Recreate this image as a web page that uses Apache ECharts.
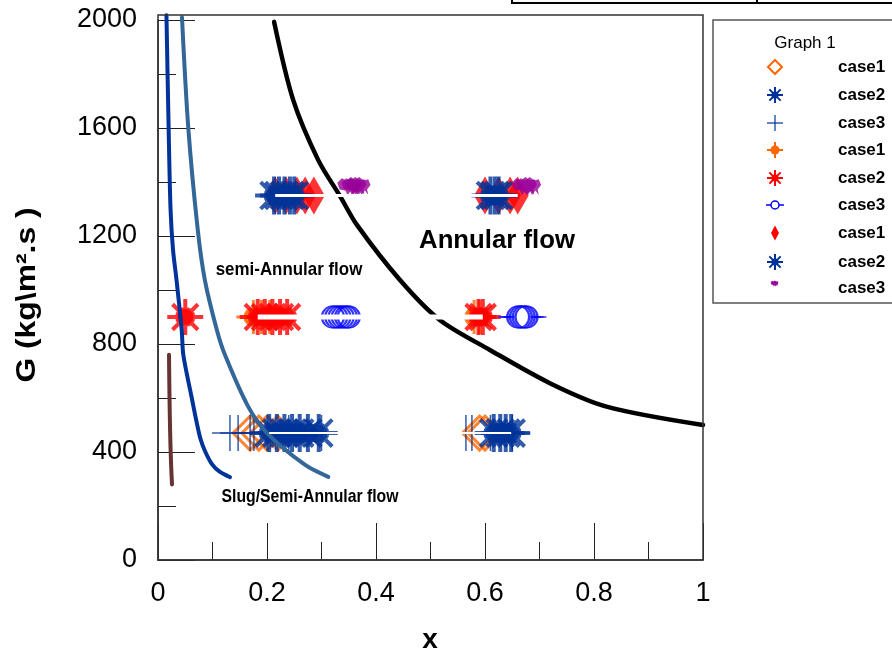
<!DOCTYPE html>
<html>
<head>
<meta charset="utf-8">
<script src="https://cdn.jsdelivr.net/npm/echarts/dist/echarts.min.js"></script>
<style>
  html, body { margin: 0; padding: 0; background: #fff; }
  #chart { width: 892px; height: 657px; }
</style>
</head>
<body>
<div id="chart"></div>
<script>
// Flow pattern map: vapour quality x against mass flux G.

// Mass flux levels of the three test groups (kg/m2.s)
const gLow = 470;
const gMid = 900;
const gHigh = 1350;
const gHighCase3 = 1385;

// Group at G = 470: case1 / case2 / case3 qualities
const lowCase1X = [0.169, 0.185, 0.2, 0.22, 0.59, 0.6];
const lowCase2X = [0.204, 0.218, 0.232, 0.246, 0.26, 0.275, 0.295, 0.616, 0.628, 0.638, 0.648];
const lowCase3X = [0.132, 0.147, 0.169, 0.176, 0.2, 0.24, 0.3, 0.565, 0.576, 0.61, 0.65];

// Group at G = 900
const midCase1X = [0.175, 0.19, 0.205, 0.58, 0.59];
const midCase2X = [0.05, 0.183, 0.196, 0.21, 0.224, 0.237, 0.588, 0.596];
const midCase3X = [0.321, 0.327, 0.333, 0.339, 0.345, 0.35, 0.661, 0.666, 0.671, 0.676];

// Group at G = 1350
const highCase1X = [0.215, 0.235, 0.255, 0.27, 0.286, 0.6, 0.625, 0.646, 0.66];
const highCase2X = [0.213, 0.222, 0.232, 0.242, 0.25, 0.61, 0.618, 0.625];
const highCase3X = [0.352, 0.36, 0.367, 0.672, 0.68];

// Transition boundaries [x, G]
const slugBoundary = [[0.0155, 2018], [0.0195, 1600], [0.023, 1300], [0.0275, 1150], [0.034, 1037],
  [0.0435, 852], [0.0465, 759], [0.062, 600], [0.07, 519], [0.078, 448], [0.087, 400], [0.099, 355],
  [0.113, 327], [0.132, 307]];
const semiAnnularBoundary = [[0.044, 2010], [0.0556, 1600], [0.073, 1222], [0.086, 1037], [0.108, 852],
  [0.123, 759], [0.165, 570], [0.2, 470], [0.27, 352], [0.3125, 308]];
const annularBoundary = [[0.213, 1993], [0.248, 1704], [0.294, 1481], [0.334, 1348], [0.365, 1241],
  [0.444, 1037], [0.517, 889], [0.609, 778], [0.719, 655], [0.823, 568], [1.0, 500]];
const bubbleBoundary = [[0.0202, 760], [0.0208, 650], [0.0216, 540], [0.0228, 430], [0.0243, 340], [0.0257, 280]];

// Axis ticks
const xTickLabels = [0, 0.2, 0.4, 0.6, 0.8, 1];
const yTickLabels = [0, 400, 800, 1200, 1600, 2000];

// Legend entries
const legendNames = ['case1', 'case2', 'case3', 'case1', 'case2', 'case3', 'case1', 'case2', 'case3'];

// Marker shapes (SVG path data)
const SUN = 'M20,0L20,40M0,20L40,20M5.86,5.86L34.14,34.14M34.14,5.86L5.86,34.14M29,20A9,9,0,1,1,11,20A9,9,0,1,1,29,20Z';
const PLUS = 'M20,0L20,40M0,20L40,20';
const DOT_CROSS = 'M20,0L20,40M0,20L40,20M30,20A10,10,0,1,1,10,20A10,10,0,1,1,30,20Z';
const RING_ARMS = 'M0,11L9,11M31,11L40,11M31,11A11,11,0,1,1,9,11A11,11,0,1,1,31,11Z';
const DIAMOND = 'M10,0L20,10L10,20L0,10Z';
const BUG_PTS = [[2,6],[6,2],[10,4],[14,1],[18,4],[22,3],[24,8],[21,12],[22,17],[19,13],[16,17],[14,13],[11,17],[9,13],[4,12]];
const BUG = 'M' + BUG_PTS.map(p => p.join(',')).join('L') + 'Z';

const ORANGE = '#ff6600', NAVY = '#003399', RED = '#ff0000', BLUE = '#0000ff', PURPLE = '#990099';

const styles = [
  { symbol: 'path://' + DIAMOND, size: 34, item: { color: 'rgba(0,0,0,0)', borderColor: ORANGE, borderWidth: 3 } },
  { symbol: 'path://' + SUN, size: 38, item: { color: NAVY, borderColor: NAVY, borderWidth: 4 } },
  { symbol: 'path://' + PLUS, size: 36, item: { color: 'rgba(0,0,0,0)', borderColor: NAVY, borderWidth: 1.5 } },
  { symbol: 'path://' + DOT_CROSS, size: 34, item: { color: ORANGE, borderColor: ORANGE, borderWidth: 3 } },
  { symbol: 'path://' + SUN, size: 36, item: { color: RED, borderColor: RED, borderWidth: 4 } },
  { symbol: 'path://' + RING_ARMS, size: [40, 22], item: { color: 'rgba(0,0,0,0)', borderColor: BLUE, borderWidth: 1.8 } },
  { symbol: 'path://' + DIAMOND, size: [22, 38], item: { color: RED, borderColor: RED, borderWidth: 0 } },
  { symbol: 'path://' + SUN, size: 38, item: { color: NAVY, borderColor: NAVY, borderWidth: 4 } },
  { symbol: 'path://' + BUG, size: [25, 18], item: { color: PURPLE, borderColor: PURPLE, borderWidth: 0 } }
];

const groups = [
  [lowCase1X, gLow], [lowCase2X, gLow], [lowCase3X, gLow],
  [midCase1X, gMid], [midCase2X, gMid], [midCase3X, gMid],
  [highCase1X, gHigh], [highCase2X, gHigh], [highCase3X, gHighCase3]
];

const series = [];
groups.forEach(([xs, g], i) => {
  series.push({
    type: 'scatter',
    name: legendNames[i] + '#' + i,
    data: xs.map(x => [x, g]),
    symbol: styles[i].symbol,
    symbolSize: styles[i].size,
    itemStyle: styles[i].item,
    z: 2,
    silent: true,
    animation: false
  });
});

function boundary(data, color, width) {
  return {
    type: 'line', data, showSymbol: false, symbol: 'none', smooth: 0.3, clip: false,
    lineStyle: { color, width, cap: 'round', join: 'round' }, z: 3, silent: true, animation: false
  };
}
series.push(boundary(slugBoundary, '#003399', 4));
series.push(boundary(semiAnnularBoundary, '#336699', 4));
series.push(boundary(annularBoundary, '#000000', 4.5));
series.push(boundary(bubbleBoundary, '#663333', 4));

// White connecting traces through each group's main clusters
function trace(xs, g, width) {
  const sorted = xs.filter(x => x > 0.1).sort((a, b) => a - b);
  return {
    type: 'line', data: sorted.map(x => [x, g]), showSymbol: false, symbol: 'none',
    lineStyle: { color: '#ffffff', width }, z: 4, silent: true, animation: false
  };
}
series.push(trace(lowCase2X, gLow, 2));
series.push(trace(midCase2X, gMid, 5));
series.push(trace(highCase1X, gHigh, 3));

// ---- legend keys built from primitive shapes ----
function seg(x1, y1, x2, y2, stroke, w) {
  return { type: 'line', shape: { x1, y1, x2, y2 }, style: { stroke, lineWidth: w }, z: 11 };
}
function sunKey(cx, cy, r, color) {
  const d = r * 0.707;
  return [
    seg(cx, cy - r, cx, cy + r, color, 2), seg(cx - r, cy, cx + r, cy, color, 2),
    seg(cx - d, cy - d, cx + d, cy + d, color, 2), seg(cx + d, cy - d, cx - d, cy + d, color, 2),
    { type: 'circle', shape: { cx, cy, r: r * 0.45 }, style: { fill: color }, z: 11 }
  ];
}
function diamondKey(cx, cy, hw, hh, style) {
  return [{ type: 'polygon', shape: { points: [[cx, cy - hh], [cx + hw, cy], [cx, cy + hh], [cx - hw, cy]] }, style, z: 11 }];
}
const KX = 775;
const legendKeys = [
  diamondKey(KX, 67, 7, 7, { fill: 'none', stroke: ORANGE, lineWidth: 2 }),
  sunKey(KX, 95, 8, NAVY),
  [seg(KX, 115, KX, 131, NAVY, 1.2), seg(KX - 8, 123, KX + 8, 123, NAVY, 1.2)],
  [seg(KX, 142, KX, 158, ORANGE, 2), seg(KX - 8, 150, KX + 8, 150, ORANGE, 2),
   { type: 'circle', shape: { cx: KX, cy: 150, r: 4.5 }, style: { fill: ORANGE }, z: 11 }],
  sunKey(KX, 178, 8, RED),
  [seg(KX - 9, 205, KX - 4, 205, BLUE, 1.5), seg(KX + 4, 205, KX + 9, 205, BLUE, 1.5),
   { type: 'circle', shape: { cx: KX, cy: 205, r: 4 }, style: { fill: '#fff', stroke: BLUE, lineWidth: 1.5 }, z: 11 }],
  diamondKey(KX, 233, 4, 7.5, { fill: RED }),
  sunKey(KX, 262, 8, NAVY),
  [{ type: 'polygon', shape: { points: BUG_PTS.map(p => [KX - 5 + p[0] * 0.35, 280 + p[1] * 0.38]) }, style: { fill: PURPLE }, z: 11 }]
];
const legendTextY = [67, 95, 123, 150, 178, 205, 233, 262, 288];

const FONT = '"Liberation Sans", Arial, sans-serif';
const graphics = [
  // plot frame
  { type: 'rect', shape: { x: 158, y: 15, width: 545, height: 545 }, style: { fill: 'none', stroke: '#333', lineWidth: 1.5 }, z: 10 },
  // legend box
  { type: 'rect', shape: { x: 713, y: 20, width: 200, height: 283 }, style: { fill: '#fff', stroke: '#555', lineWidth: 1.5 }, z: 10 },
  { type: 'text', x: 805, y: 43, style: { text: 'Graph 1', font: '17px ' + FONT, fill: '#000', align: 'center', verticalAlign: 'middle' }, z: 11 },
  // table edge at the top
  seg(512, 3, 892, 3, '#000', 2),
  seg(512, 0, 512, 4, '#000', 2),
  seg(757, 0, 757, 4, '#000', 2),
  // axis titles
  { type: 'text', x: 28, y: 295, rotation: Math.PI / 2, scaleX: 1.18, style: { text: 'G (kg\\m\u00B2.s )', font: 'bold 27px ' + FONT, fill: '#000', align: 'center', verticalAlign: 'middle' }, z: 11 },
  { type: 'text', x: 430, y: 640, style: { text: 'x', font: 'bold 28px ' + FONT, fill: '#000', align: 'center', verticalAlign: 'middle' }, z: 11 },
  // regime labels
  { type: 'text', x: 497, y: 241, scaleX: 1.03, style: { text: 'Annular flow', font: 'bold 25px ' + FONT, fill: '#000', align: 'center', verticalAlign: 'middle' }, z: 11 },
  { type: 'text', x: 289, y: 270, scaleX: 0.89, style: { text: 'semi-Annular flow', font: 'bold 19px ' + FONT, fill: '#000', align: 'center', verticalAlign: 'middle' }, z: 11 },
  { type: 'text', x: 310, y: 497, scaleX: 0.83, style: { text: 'Slug/Semi-Annular flow', font: 'bold 19px ' + FONT, fill: '#000', align: 'center', verticalAlign: 'middle' }, z: 11 }
];
legendKeys.forEach((els, i) => {
  els.forEach(el => graphics.push(el));
  graphics.push({
    type: 'text', x: 838, y: legendTextY[i],
    style: { text: legendNames[i], font: 'bold 17px ' + FONT, fill: '#000', align: 'left', verticalAlign: 'middle' },
    z: 11
  });
});

const tickFont = { fontSize: 27, fontFamily: FONT, color: '#000' };

const chart = echarts.init(document.getElementById('chart'), null, { renderer: 'canvas' });
chart.setOption({
  backgroundColor: '#fff',
  animation: false,
  grid: { left: 158, right: 189, top: 20, bottom: 97, containLabel: false, outerBoundsMode: 'none' },
  xAxis: {
    type: 'value', min: 0, max: 1, interval: 0.2,
    axisLine: { show: true, lineStyle: { color: '#333', width: 1.5 } },
    axisTick: { show: true, inside: true, length: 37, lineStyle: { color: '#222', width: 1 } },
    minorTick: { show: true, splitNumber: 2, length: 18, lineStyle: { color: '#222', width: 1 } },
    splitLine: { show: false },
    axisLabel: Object.assign({ margin: 20, formatter: v => String(xTickLabels.find(t => Math.abs(t - v) < 1e-9) ?? v) }, tickFont)
  },
  yAxis: {
    type: 'value', min: 0, max: 2000, interval: 400,
    axisLine: { show: true, lineStyle: { color: '#333', width: 1.5 } },
    axisTick: { show: true, inside: true, length: 37, lineStyle: { color: '#222', width: 1 } },
    minorTick: { show: true, splitNumber: 2, length: 18, lineStyle: { color: '#222', width: 1 } },
    splitLine: { show: false },
    axisLabel: Object.assign({ margin: 21, formatter: v => String(yTickLabels.find(t => t === v) ?? v) }, tickFont)
  },
  graphic: graphics,
  series
});
</script>
</body>
</html>
